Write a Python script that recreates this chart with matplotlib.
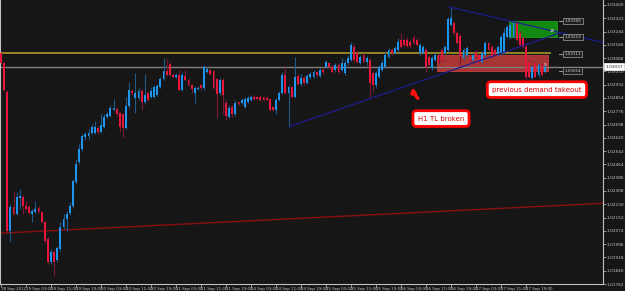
import numpy as np
import matplotlib
matplotlib.use("Agg")
import matplotlib.pyplot as plt
from matplotlib.patches import Rectangle

# H1 candles, 18 Sep 19:00 -> 28 Sep 01:00 (prices)
opens = [
    1.03119, 1.03061, 1.02891, 1.02072, 1.02212, 1.02172, 1.02265, 1.02271, 1.02218, 1.02212,
    1.02172, 1.02183, 1.02207, 1.02183, 1.02125, 1.02025, 1.01891, 1.01949, 1.01902, 1.01967,
    1.02095, 1.02142, 1.02177, 1.02218, 1.02359, 1.02476, 1.02552, 1.02622, 1.02628, 1.02651,
    1.02651, 1.02680, 1.02657, 1.02686, 1.02745, 1.02751, 1.02786, 1.02792, 1.02768, 1.02762,
    1.02675, 1.02809, 1.02897, 1.02856, 1.02856, 1.02897, 1.02833, 1.02885, 1.02862, 1.02862,
    1.02874, 1.02920, 1.02967, 1.03014, 1.03055, 1.02991, 1.02979, 1.02991, 1.02903, 1.02985,
    1.02961, 1.02932, 1.02885, 1.02909, 1.02932, 1.02914, 1.03008, 1.03020, 1.03014, 1.02967,
    1.02885, 1.02961, 1.02827, 1.02745, 1.02803, 1.02757, 1.02833, 1.02827, 1.02803, 1.02833,
    1.02844, 1.02862, 1.02862, 1.02862, 1.02862, 1.02856, 1.02850, 1.02803, 1.02786, 1.02844,
    1.02885, 1.02991, 1.02885, 1.02920, 1.02862, 1.02985, 1.02938, 1.02973, 1.02944, 1.02979,
    1.02979, 1.03008, 1.02985, 1.03020, 1.03037, 1.03061, 1.03037, 1.03020, 1.03049, 1.03020,
    1.03002, 1.03061, 1.03078, 1.03154, 1.03119, 1.03061, 1.03108, 1.03067, 1.03078, 1.03002,
    1.02932, 1.02979, 1.03020, 1.03037, 1.03096, 1.03137, 1.03119, 1.03137, 1.03195, 1.03195,
    1.03195, 1.03184, 1.03207, 1.03195, 1.03119, 1.03119, 1.03137, 1.03096, 1.03031, 1.03078,
    1.03108, 1.03137, 1.03119, 1.03137, 1.03283, 1.03295, 1.03236, 1.03219, 1.03090, 1.03108,
    1.03096, 1.03078, 1.03125, 1.03108, 1.03067, 1.03108, 1.03178, 1.03154, 1.03137, 1.03108,
    1.03119, 1.03119, 1.03213, 1.03213, 1.03213, 1.03295, 1.03236, 1.03207, 1.03154, 1.03067,
    1.02973, 1.03061, 1.02991, 1.03049, 1.03008,
]
highs = [
    1.03125, 1.03067, 1.02903, 1.02230, 1.02300, 1.02300, 1.02318, 1.02283, 1.02248, 1.02224,
    1.02201, 1.02248, 1.02218, 1.02189, 1.02131, 1.02037, 1.01967, 1.01961, 1.01984, 1.02125,
    1.02172, 1.02189, 1.02242, 1.02376, 1.02493, 1.02581, 1.02645, 1.02657, 1.02669, 1.02704,
    1.02716, 1.02692, 1.02757, 1.02762, 1.02774, 1.02815, 1.02850, 1.02803, 1.02774, 1.02768,
    1.02862, 1.02950, 1.02909, 1.03002, 1.02914, 1.02909, 1.02996, 1.02897, 1.02920, 1.02932,
    1.02938, 1.02979, 1.03090, 1.03084, 1.03067, 1.03002, 1.03002, 1.03020, 1.03008, 1.03020,
    1.02973, 1.02938, 1.02926, 1.02926, 1.02938, 1.03049, 1.03037, 1.03026, 1.03020, 1.02973,
    1.02973, 1.02973, 1.02844, 1.02815, 1.02815, 1.02844, 1.02838, 1.02856, 1.02862, 1.02868,
    1.02874, 1.02874, 1.02868, 1.02874, 1.02868, 1.02868, 1.02856, 1.02809, 1.02856, 1.02897,
    1.03008, 1.03037, 1.02932, 1.02926, 1.03096, 1.02996, 1.02996, 1.02985, 1.02996, 1.03008,
    1.03020, 1.03014, 1.03031, 1.03037, 1.03078, 1.03067, 1.03049, 1.03061, 1.03061, 1.03090,
    1.03078, 1.03108, 1.03184, 1.03172, 1.03137, 1.03108, 1.03119, 1.03102, 1.03090, 1.03014,
    1.03014, 1.03049, 1.03078, 1.03125, 1.03148, 1.03148, 1.03160, 1.03207, 1.03236, 1.03207,
    1.03213, 1.03201, 1.03225, 1.03207, 1.03178, 1.03166, 1.03148, 1.03108, 1.03102, 1.03119,
    1.03119, 1.03148, 1.03166, 1.03330, 1.03388, 1.03306, 1.03248, 1.03230, 1.03148, 1.03160,
    1.03108, 1.03119, 1.03137, 1.03119, 1.03131, 1.03189, 1.03184, 1.03166, 1.03148, 1.03166,
    1.03225, 1.03265, 1.03283, 1.03295, 1.03312, 1.03306, 1.03248, 1.03219, 1.03166, 1.03078,
    1.03049, 1.03067, 1.03061, 1.03061, 1.03055,
]
lows = [
    1.03055, 1.02897, 1.02060, 1.02008, 1.02166, 1.02166, 1.02201, 1.02172, 1.02195, 1.02172,
    1.02125, 1.02177, 1.02177, 1.02119, 1.02002, 1.01879, 1.01879, 1.01809, 1.01891, 1.01955,
    1.02084, 1.02072, 1.02166, 1.02207, 1.02347, 1.02464, 1.02540, 1.02610, 1.02616, 1.02640,
    1.02645, 1.02645, 1.02651, 1.02680, 1.02739, 1.02745, 1.02780, 1.02751, 1.02657, 1.02622,
    1.02669, 1.02797, 1.02874, 1.02768, 1.02844, 1.02786, 1.02821, 1.02838, 1.02856, 1.02856,
    1.02868, 1.02914, 1.02961, 1.02985, 1.02985, 1.02973, 1.02973, 1.02897, 1.02897, 1.02955,
    1.02926, 1.02885, 1.02827, 1.02903, 1.02903, 1.02903, 1.03002, 1.02991, 1.02909, 1.02739,
    1.02874, 1.02757, 1.02727, 1.02739, 1.02745, 1.02751, 1.02815, 1.02821, 1.02797, 1.02827,
    1.02838, 1.02844, 1.02844, 1.02838, 1.02838, 1.02838, 1.02780, 1.02780, 1.02757, 1.02838,
    1.02879, 1.02879, 1.02686, 1.02856, 1.02856, 1.02932, 1.02926, 1.02932, 1.02938, 1.02967,
    1.02973, 1.02979, 1.02979, 1.02996, 1.03031, 1.03031, 1.03002, 1.03008, 1.02996, 1.03014,
    1.02991, 1.03049, 1.03072, 1.03067, 1.03061, 1.03055, 1.03061, 1.03049, 1.02856, 1.02891,
    1.02914, 1.02973, 1.03014, 1.03031, 1.03090, 1.03108, 1.03113, 1.03125, 1.03148, 1.03154,
    1.03154, 1.03148, 1.03172, 1.03160, 1.03108, 1.03113, 1.03008, 1.03043, 1.03020, 1.03072,
    1.03061, 1.03072, 1.03113, 1.03125, 1.03277, 1.03225, 1.03172, 1.03049, 1.03078, 1.03096,
    1.03072, 1.03072, 1.03090, 1.03072, 1.03061, 1.03102, 1.03131, 1.03090, 1.03102, 1.03102,
    1.03108, 1.03113, 1.03207, 1.03201, 1.03207, 1.03189, 1.03160, 1.03148, 1.02967, 1.02973,
    1.02967, 1.02973, 1.02979, 1.02985, 1.03002,
]
closes = [
    1.03061, 1.02903, 1.02072, 1.02212, 1.02172, 1.02271, 1.02277, 1.02218, 1.02201, 1.02177,
    1.02189, 1.02201, 1.02183, 1.02125, 1.02014, 1.01891, 1.01949, 1.01891, 1.01973, 1.02095,
    1.02142, 1.02172, 1.02218, 1.02365, 1.02464, 1.02552, 1.02628, 1.02640, 1.02651, 1.02686,
    1.02686, 1.02657, 1.02698, 1.02745, 1.02757, 1.02797, 1.02797, 1.02757, 1.02686, 1.02675,
    1.02809, 1.02903, 1.02885, 1.02885, 1.02897, 1.02833, 1.02874, 1.02844, 1.02897, 1.02920,
    1.02926, 1.02967, 1.03014, 1.02991, 1.02991, 1.02979, 1.02991, 1.02903, 1.02991, 1.02961,
    1.02932, 1.02909, 1.02914, 1.02914, 1.02914, 1.03037, 1.03026, 1.02996, 1.02914, 1.02879,
    1.02961, 1.02874, 1.02751, 1.02797, 1.02757, 1.02827, 1.02821, 1.02844, 1.02850, 1.02856,
    1.02862, 1.02850, 1.02850, 1.02844, 1.02844, 1.02844, 1.02786, 1.02786, 1.02844, 1.02885,
    1.02991, 1.02885, 1.02920, 1.02862, 1.02979, 1.02938, 1.02973, 1.02944, 1.02985, 1.02996,
    1.03008, 1.02991, 1.03020, 1.03008, 1.03067, 1.03037, 1.03008, 1.03049, 1.03008, 1.03061,
    1.03061, 1.03090, 1.03166, 1.03078, 1.03067, 1.03096, 1.03067, 1.03090, 1.02944, 1.02932,
    1.03002, 1.03037, 1.03061, 1.03108, 1.03137, 1.03119, 1.03148, 1.03184, 1.03154, 1.03166,
    1.03160, 1.03160, 1.03178, 1.03166, 1.03166, 1.03154, 1.03037, 1.03049, 1.03090, 1.03108,
    1.03067, 1.03078, 1.03154, 1.03318, 1.03324, 1.03236, 1.03178, 1.03102, 1.03137, 1.03148,
    1.03078, 1.03108, 1.03096, 1.03078, 1.03119, 1.03178, 1.03137, 1.03096, 1.03108, 1.03154,
    1.03213, 1.03236, 1.03271, 1.03283, 1.03301, 1.03195, 1.03166, 1.03154, 1.02979, 1.02979,
    1.03037, 1.02979, 1.03049, 1.02991, 1.03037,
]

time_labels = [
    "18 Sep 2012", "19 Sep 03:00", "19 Sep 11:00", "19 Sep 19:00", "20 Sep 03:00",
    "20 Sep 11:00", "20 Sep 19:00", "21 Sep 03:00", "21 Sep 11:00", "21 Sep 19:00",
    "24 Sep 03:00", "24 Sep 11:00", "24 Sep 19:00", "25 Sep 03:00", "25 Sep 11:00",
    "25 Sep 19:00", "26 Sep 03:00", "26 Sep 11:00", "26 Sep 19:00", "27 Sep 03:00",
    "27 Sep 11:00", "27 Sep 19:00",
]
price_ticks = [
    1.03400, 1.03322, 1.03244, 1.03166, 1.03088, 1.03010, 1.02932, 1.02854, 1.02776,
    1.02698, 1.02620, 1.02542, 1.02464, 1.02386, 1.02308, 1.02230, 1.02152, 1.02074,
    1.01996, 1.01918, 1.01840, 1.01762,
]

# drawn objects
bid = 1.03037
yellow_level = 1.03119
supply_zone = (162.6, 177.9, 1.03213, 1.03306)   # x0, x1, low, high
demand_zone = (139.5, 175.0, 1.03014, 1.03108)
tl_up = ([92.2, 178.9], [1.02686, 1.03236])
tl_dn = ([143.4, 193.0], [1.03388, 1.03178])
red_line = ([-0.5, 193.0], [1.02060, 1.02236])
object_prices = [1.03306, 1.03213, 1.03113, 1.03014]

small_font = ["Liberation Sans Narrow", "DejaVu Sans"]

bg = "#161616"
fig = plt.figure(figsize=(6.25, 2.91), dpi=100, facecolor=bg)
ax = fig.add_axes([0.0, 7 / 291, 603 / 625, 284 / 291])
ax.set_facecolor(bg)

x = np.arange(len(closes))
o = np.array(opens)
h = np.array(highs)
l = np.array(lows)
c = np.array(closes)
up = c >= o
body_col = np.where(up, "#1e96f0", "#e8163c")
wick_col = np.where(up, "#1f5a8a", "#7a1830")

# zones under the candles
for (x0, x1, lo, hi), fc, ec in [(supply_zone, "#128a12", "#1aa01a"),
                                  (demand_zone, "#a83434", "#c04040")]:
    ax.add_patch(Rectangle((x0, lo), x1 - x0, hi - lo, fc=fc, ec=ec, lw=0.6, zorder=1))
ax.text(176.5, 1.03245, "15", color="white", fontsize=3, ha="center", va="center", zorder=5)
ax.text(174.2, 1.03045, "9", color="white", fontsize=3, ha="center", va="center", zorder=5)

ax.plot([-0.5, 175.7], [yellow_level] * 2, color="#a89a2a", lw=1.2, zorder=1.5)
ax.axhline(bid, color="#808080", lw=1.0, zorder=1.5)
ax.plot(*red_line, color="#8a1010", lw=1.0, zorder=1.5)

ax.vlines(x, l, h, colors=wick_col, lw=0.8, zorder=2)
ax.bar(x, np.maximum(np.abs(c - o), 0.00003), bottom=np.minimum(o, c), width=0.62,
       color=body_col, lw=0, zorder=3)

ax.plot(*tl_up, color="#1c1c90", lw=0.9, zorder=4)
ax.plot(*tl_dn, color="#1c1c90", lw=0.9, zorder=4)

# price labels of objects
for p in object_prices:
    ax.plot([178.6, 179.6], [p, p], color="#b0b0b0", lw=0.6, zorder=5)
    ax.text(183.0, p, f"{p:.5f}", color="#d0d0d0", fontsize=3, ha="center", va="center",
            family=small_font, zorder=6,
            bbox=dict(boxstyle="square,pad=0.3", fc="#1e1e1e", ec="#a0a0a0", lw=0.5))

# annotations
ax.text(171.5, 1.02903, "previous demand takeout", color="#e00000", fontsize=5,
        ha="center", va="center", zorder=7,
        bbox=dict(boxstyle="round,pad=0.7,rounding_size=0.5", fc="white", ec="#ff0000", lw=2))
ax.text(140.8, 1.02733, "H1 TL broken", color="#e00000", fontsize=5,
        ha="center", va="center", zorder=7,
        bbox=dict(boxstyle="round,pad=0.7,rounding_size=0.5", fc="white", ec="#ff0000", lw=2))
ax.annotate("", xy=(131.6, 1.02935), xytext=(134.0, 1.02840), zorder=7,
            arrowprops=dict(arrowstyle="-|>", color="#ff1010", lw=2.4, mutation_scale=6,
                            connectionstyle="arc3,rad=-0.2"))

# axes styling like the terminal
ax.set_xlim(-0.32, 192.64)
ax.set_ylim(1.01768, 1.03429)
ax.yaxis.tick_right()
ax.set_yticks(price_ticks)
ax.set_yticklabels([f"{v:.5f}" for v in price_ticks])
ax.set_xticks(range(0, 8 * len(time_labels), 8))
ax.set_xticklabels(time_labels, ha="left")
ax.tick_params(colors="#c8c8c8", length=2, width=0.5)
ax.tick_params(axis="x", labelsize=2.9, pad=0.3)
ax.tick_params(axis="y", labelsize=3.1, pad=0.8)
for lab in ax.get_xticklabels() + ax.get_yticklabels():
    lab.set_family(small_font)
for s in ["right", "bottom", "left"]:
    ax.spines[s].set_color("#c0c0c0")
    ax.spines[s].set_linewidth(0.8)
ax.spines["top"].set_visible(False)

ax.text(1.004, bid, f"{bid:.5f}", transform=ax.get_yaxis_transform(), fontsize=3.1,
        color="#202020", va="center", ha="left", zorder=8, clip_on=False, family=small_font,
        bbox=dict(boxstyle="square,pad=0.3", fc="white", ec="white", lw=0.5))

fig.savefig("out.png", dpi=100, facecolor=bg)
